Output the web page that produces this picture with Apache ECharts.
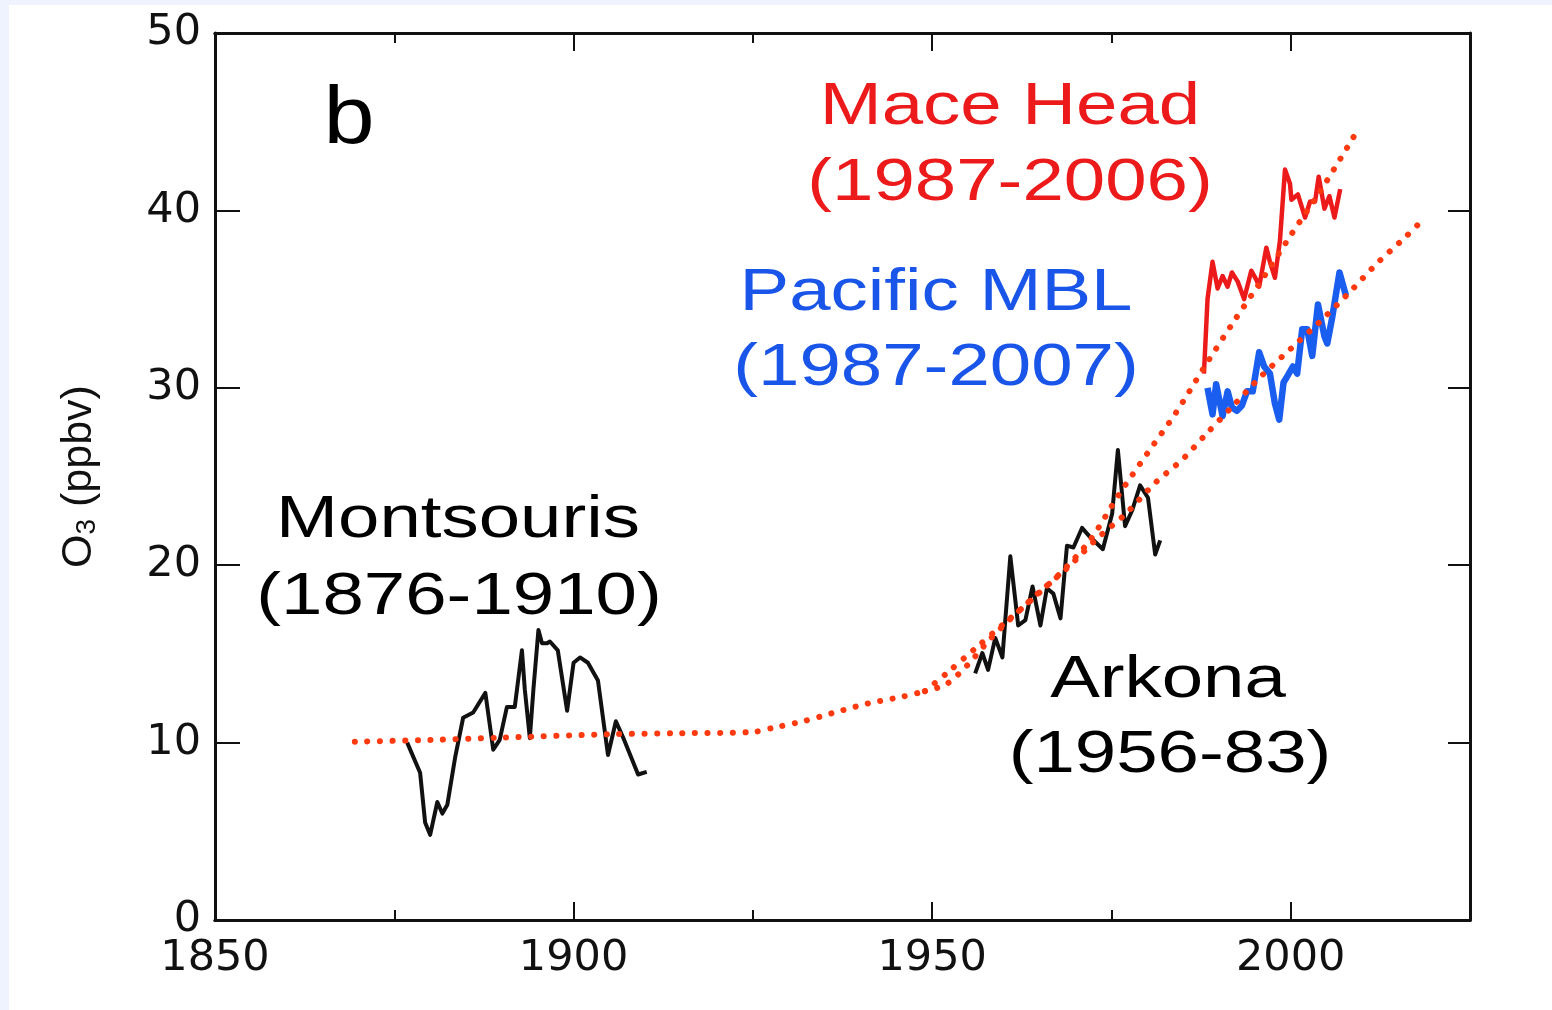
<!DOCTYPE html>
<html>
<head>
<meta charset="utf-8">
<script src="https://cdn.jsdelivr.net/npm/echarts@6/dist/echarts.min.js"></script>
<style>
  html, body { margin: 0; padding: 0; width: 1552px; height: 1010px; background: #eef3fd; overflow: hidden; }
  #chart { position: absolute; left: 9px; top: 5px; width: 1543px; height: 1005px; background: #fff; }
</style>
</head>
<body>
<div id="chart"></div>
<script>
// Montsouris (1876-1910)
const montsourisYear = [1876.8, 1878.6, 1879.3, 1880, 1881, 1881.7, 1882.4, 1883.5, 1884.6, 1886, 1887.7, 1888.8, 1889.7, 1890.7, 1891.8, 1892.8, 1893.2, 1893.9, 1894.4, 1895.1, 1895.6, 1896.3, 1896.7, 1897.8, 1899.1, 1900, 1900.9, 1902, 1903.4, 1904.8, 1905.9, 1906.9, 1909, 1910.2];
const montsourisO3 = [10.0, 8.3, 5.5, 4.8, 6.65, 6.0, 6.5, 9.2, 11.4, 11.7, 12.8, 9.6, 10.15, 12.0, 12.0, 15.2, 13.0, 10.25, 13.0, 16.35, 15.6, 15.6, 15.7, 15.2, 11.8, 14.5, 14.8, 14.5, 13.5, 9.3, 11.2, 10.3, 8.2, 8.35];

// Arkona (1956-83)
const arkonaYear = [1956, 1957, 1957.8, 1958.8, 1959.8, 1960.2, 1960.9, 1962, 1963, 1964, 1965.1, 1966, 1966.9, 1967.9, 1968.8, 1969.7, 1970.9, 1972, 1973.8, 1975.1, 1975.9, 1976.9, 1977.9, 1979, 1980.1, 1981.1, 1981.8];
const arkonaO3 = [13.9, 15.05, 14.1, 15.9, 14.8, 16.9, 20.5, 16.6, 16.9, 18.8, 16.6, 18.7, 18.4, 17.0, 21.1, 21.0, 22.1, 21.6, 20.9, 22.9, 26.5, 22.2, 23.1, 24.5, 23.8, 20.6, 21.4];

// Mace Head (1987-2006)
const maceYear = [1987.9, 1988.4, 1989.1, 1989.8, 1990.5, 1991.2, 1991.8, 1992.6, 1993.5, 1994.5, 1995.2, 1995.6, 1996.6, 1997.1, 1997.8, 1998.5, 1999.2, 1999.9, 2000.1, 2001.0, 2002, 2002.7, 2003.4, 2003.9, 2004.7, 2005.4, 2006.1, 2006.9];
const maceO3 = [30.8, 35.0, 37.1, 35.6, 36.3, 35.7, 36.5, 36.0, 35.0, 36.6, 36.1, 35.7, 37.9, 37.1, 36.2, 38.3, 42.3, 41.5, 40.6, 40.9, 39.6, 40.5, 40.5, 41.9, 40.1, 40.8, 39.6, 41.2];

// Pacific MBL (1987-2007)
const pacificYear = [1988.4, 1989.1, 1989.6, 1990.5, 1991.2, 1991.8, 1992.5, 1993.2, 1993.9, 1994.7, 1995.6, 1996.3, 1997.1, 1997.8, 1998.4, 1999.0, 1999.6, 2000.3, 2000.9, 2001.6, 2002.3, 2003.0, 2003.8, 2004.7, 2005.1, 2005.8, 2006.8, 2007.7];
const pacificO3 = [30.0, 28.5, 30.2, 28.4, 29.8, 28.9, 28.7, 29.0, 29.8, 29.8, 32.0, 31.2, 30.8, 29.1, 28.2, 30.3, 30.7, 31.2, 30.8, 33.3, 33.3, 31.8, 34.7, 32.9, 32.5, 34.0, 36.5, 35.2];

// dotted trend: common part, then two branches
const trendBaseYear = [1869.5, 1880, 1890, 1905, 1915, 1925, 1928, 1932, 1936, 1941, 1946, 1949];
const trendBaseO3 = [10.05, 10.15, 10.28, 10.47, 10.53, 10.6, 10.85, 11.2, 11.65, 12.2, 12.6, 12.9];
const trendUpYear = [1949, 1952, 1956, 1960, 1964, 1968, 1972, 1976, 1980, 1984, 1988, 1992, 1996, 2000, 2004, 2009.3];
const trendUpO3 = [12.9, 13.9, 15.3, 16.7, 18.1, 19.6, 21.4, 23.95, 26.3, 28.6, 31.2, 33.7, 36.1, 38.6, 41.0, 44.5];
const trendLowYear = [1949, 1952, 1955, 1958, 1961, 1965, 1969, 1973, 1977, 1981, 1985, 1988, 1992, 1996, 2000, 2004, 2008, 2012, 2016, 2018.5];
const trendLowO3 = [12.9, 13.3, 14.4, 15.8, 17.0, 18.5, 19.9, 21.5, 22.9, 24.6, 26.0, 27.3, 29.0, 30.7, 32.2, 33.7, 35.3, 37.0, 38.5, 39.5];

const pairs = (xs, ys) => xs.map((x, i) => [x, ys[i]]);

const chart = echarts.init(document.getElementById('chart'));

const frameLine = { show: true, onZero: false, lineStyle: { color: '#111', width: 3 } };
const tickFont = { color: '#111', fontSize: 43, fontFamily: 'DejaVu Sans', formatter: v => String(v) };

const dotted = (data) => ({
  type: 'line',
  data: data,
  smooth: 0.3,
  showSymbol: false,
  z: 5,
  lineStyle: { color: '#ff3a10', width: 6, type: [0.1, 12.5], cap: 'round' }
});

const solid = (data, color, width) => ({
  type: 'line',
  data: data,
  showSymbol: false,
  z: 3,
  lineStyle: { color: color, width: width, join: 'round' }
});

// annotation labels (the source image is stretched horizontally, hence scaleX)
const label = (text, x, y, color, size, sx) => ({
  type: 'text',
  x: x,
  y: y,
  scaleX: sx,
  z: 10,
  style: {
    text: text,
    x: 0,
    y: 0,
    fill: color,
    font: size + 'px "Liberation Sans", Arial, sans-serif',
    align: 'center',
    verticalAlign: 'middle',
    textAlign: 'center',
    textVerticalAlign: 'middle'
  }
});

const option = {
  animation: false,
  grid: { left: 206, top: 28, right: 82, bottom: 90 },
  xAxis: [
    {
      type: 'value', position: 'bottom', min: 1850, max: 2025, interval: 50,
      axisLine: frameLine,
      axisTick: { inside: true, length: 18, lineStyle: { color: '#111', width: 2 } },
      axisLabel: Object.assign({ margin: 17, showMaxLabel: false }, tickFont),
      splitLine: { show: false }
    },
    {
      type: 'value', position: 'bottom', min: 1850, max: 2025, interval: 25,
      axisLine: frameLine,
      axisTick: { inside: true, length: 10, lineStyle: { color: '#111', width: 2 } },
      axisLabel: { show: false },
      splitLine: { show: false }
    },
    {
      type: 'value', position: 'top', min: 1850, max: 2025, interval: 50,
      axisLine: frameLine,
      axisTick: { inside: true, length: 18, lineStyle: { color: '#111', width: 2 } },
      axisLabel: { show: false },
      splitLine: { show: false }
    },
    {
      type: 'value', position: 'top', min: 1850, max: 2025, interval: 25,
      axisLine: frameLine,
      axisTick: { inside: true, length: 10, lineStyle: { color: '#111', width: 2 } },
      axisLabel: { show: false },
      splitLine: { show: false }
    }
  ],
  yAxis: [
    {
      type: 'value', position: 'left', min: 0, max: 50, interval: 10,
      axisLine: frameLine,
      axisTick: { inside: true, length: 25, lineStyle: { color: '#111', width: 2 } },
      axisLabel: Object.assign({ margin: 14 }, tickFont),
      splitLine: { show: false },
      name: '{o|O}{s|3}{o| (ppbv)}',
      nameLocation: 'middle',
      nameRotate: 90,
      nameGap: 114,
      nameTextStyle: {
        rich: {
          o: { fontSize: 43, fontFamily: 'Liberation Sans', color: '#111' },
          s: { fontSize: 28, fontFamily: 'Liberation Sans', color: '#111', padding: [16, 0, 0, 0] }
        }
      }
    },
    {
      type: 'value', position: 'right', min: 0, max: 50, interval: 10,
      axisLine: frameLine,
      axisTick: { inside: true, length: 22, lineStyle: { color: '#111', width: 2 } },
      axisLabel: { show: false },
      splitLine: { show: false }
    }
  ],
  series: [
    solid(pairs(montsourisYear, montsourisO3), '#111', 4),
    solid(pairs(arkonaYear, arkonaO3), '#111', 4),
    solid(pairs(maceYear, maceO3), '#ec1a1a', 4.5),
    solid(pairs(pacificYear, pacificO3), '#1a5ef0', 6.5),
    dotted(pairs(trendBaseYear, trendBaseO3)),
    dotted(pairs(trendUpYear, trendUpO3)),
    dotted(pairs(trendLowYear, trendLowO3))
  ],
  graphic: [
    label('b', 340, 115, '#000', 82, 1.12),
    label('Mace Head', 1001, 102, '#ec1a1a', 60, 1.24),
    label('(1987-2006)', 1001, 178, '#ec1a1a', 60, 1.24),
    label('Pacific MBL', 927, 288, '#1a55ea', 60, 1.24),
    label('(1987-2007)', 927, 363, '#1a55ea', 60, 1.24),
    label('Montsouris', 449, 515, '#000', 60, 1.24),
    label('(1876-1910)', 450, 592, '#000', 60, 1.24),
    label('Arkona', 1159, 675, '#000', 60, 1.24),
    label('(1956-83)', 1161, 750, '#000', 60, 1.24)
  ]
};

chart.setOption(option);
</script>
</body>
</html>
